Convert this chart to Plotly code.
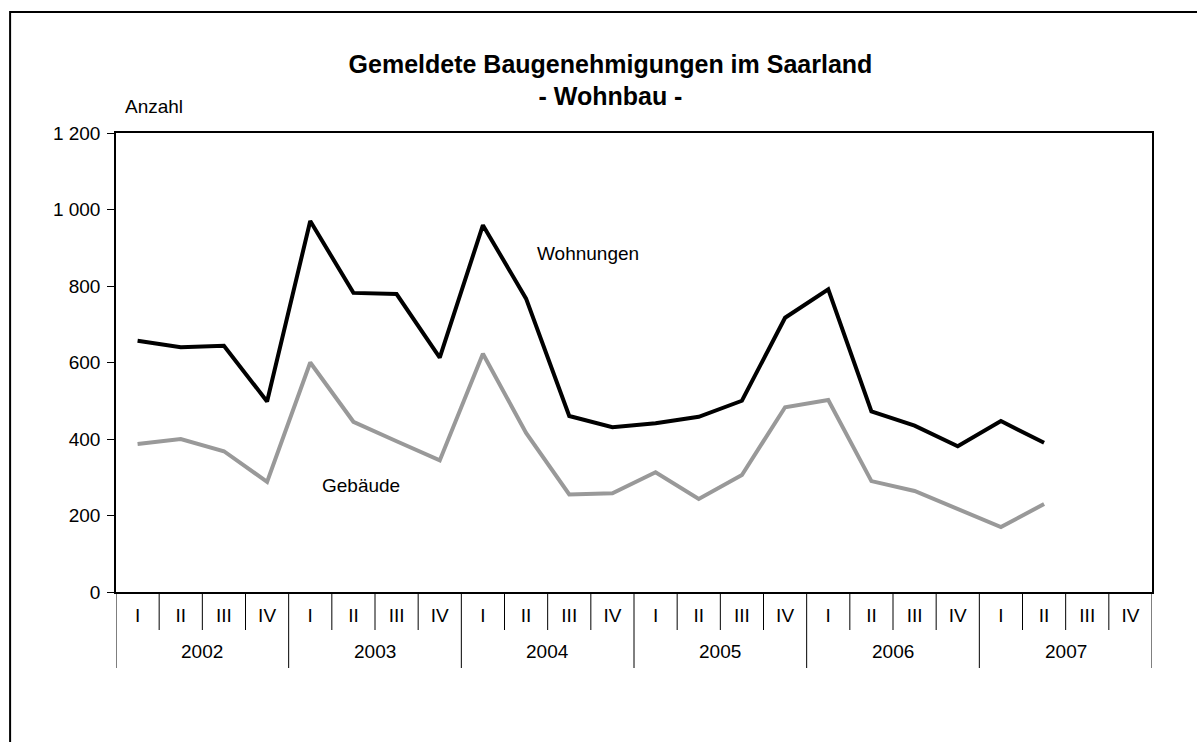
import plotly.graph_objects as go

years = ["2002", "2003", "2004", "2005", "2006", "2007"]
quarters = ["I", "II", "III", "IV"] * 6

wohnungen = [657, 640, 644, 498, 970, 782, 779, 613, 959, 767, 460, 431,
             441, 458, 500, 717, 791, 472, 435, 381, 447, 390, None, None]
gebaeude = [387, 400, 368, 288, 600, 445, 394, 344, 623, 416, 255, 258,
            313, 243, 306, 483, 502, 290, 264, 218, 170, 230, None, None]

y_ticks = [0, 200, 400, 600, 800, 1000, 1200]
y_ticktext = ["0", "200", "400", "600", "800", "1 000", "1 200"]

FONT = "Liberation Sans, Arial, sans-serif"
FS = 19
PLOT_H = 459  # plot area height in px, used to express below-axis offsets in paper units

xpos = list(range(len(quarters)))

fig = go.Figure()
fig.add_trace(go.Scatter(x=xpos, y=gebaeude, mode="lines",
                         line=dict(color="#999999", width=4), name="Gebäude"))
fig.add_trace(go.Scatter(x=xpos, y=wohnungen, mode="lines",
                         line=dict(color="#000000", width=4), name="Wohnungen"))

fig.update_layout(
    width=1197, height=742,
    margin=dict(l=116, r=45, t=133, b=150, autoexpand=False),
    paper_bgcolor="white", plot_bgcolor="white",
    showlegend=False,
    font=dict(family=FONT, size=FS, color="black"),
    title=dict(text="<b>Gemeldete Baugenehmigungen im Saarland<br>- Wohnbau -</b>",
               x=0.51, xanchor="center", y=1 - 72.5 / 742, yanchor="middle",
               font=dict(family=FONT, size=25, color="black")),
)

fig.update_xaxes(
    range=[-0.5, len(quarters) - 0.5],
    tickmode="array", tickvals=xpos, ticktext=quarters,
    ticks="", ticklabelstandoff=5,
    showline=True, linecolor="black", linewidth=1.5, mirror=True,
    showgrid=False, zeroline=False,
    tickfont=dict(family=FONT, size=FS, color="black"),
)
fig.update_yaxes(
    range=[0, 1200], tickvals=y_ticks, ticktext=y_ticktext,
    showline=True, linecolor="black", linewidth=1.5, mirror=True,
    ticks="outside", ticklen=7, tickcolor="black", ticklabelstandoff=3,
    showgrid=False, zeroline=False,
    tickfont=dict(family=FONT, size=FS, color="black"),
)

# quarter separators and year separators below the axis
for i in range(len(quarters) + 1):
    b = i - 0.5
    long = (i % 4 == 0)
    fig.add_shape(type="line", xref="x", yref="paper", x0=b, x1=b,
                  y0=0, y1=-(76 if long else 38) / PLOT_H,
                  line=dict(color="black", width=1))
for k, yr in enumerate(years):
    fig.add_annotation(text=yr, x=4 * k + 1.5, y=-59 / PLOT_H, xref="x", yref="paper",
                       yanchor="middle", showarrow=False, font=dict(family=FONT, size=FS))

fig.add_annotation(text="Wohnungen", x=0.456, y=884, xref="paper", yref="y",
                   showarrow=False, font=dict(family=FONT, size=FS))
fig.add_annotation(text="Gebäude", x=0.197, y=279, xref="paper", yref="y",
                   showarrow=False, font=dict(family=FONT, size=FS))
fig.add_annotation(text="Anzahl", x=(123 - 116) / 1037, y=1 + 27 / PLOT_H, xref="paper", yref="paper",
                   xanchor="left", yanchor="middle", showarrow=False, font=dict(family=FONT, size=FS))

# outer frame (left and top edges visible, the rest runs off the picture)
fig.add_shape(type="rect", xref="paper", yref="paper",
              x0=(10 - 116) / 1037, x1=(1215 - 116) / 1037,
              y0=(592 - 760) / PLOT_H, y1=(592 - 12) / PLOT_H,
              line=dict(color="black", width=2), layer="above")

fig.write_html("out.html", config={"displayModeBar": False},
               post_script="document.body.style.margin='0';")
